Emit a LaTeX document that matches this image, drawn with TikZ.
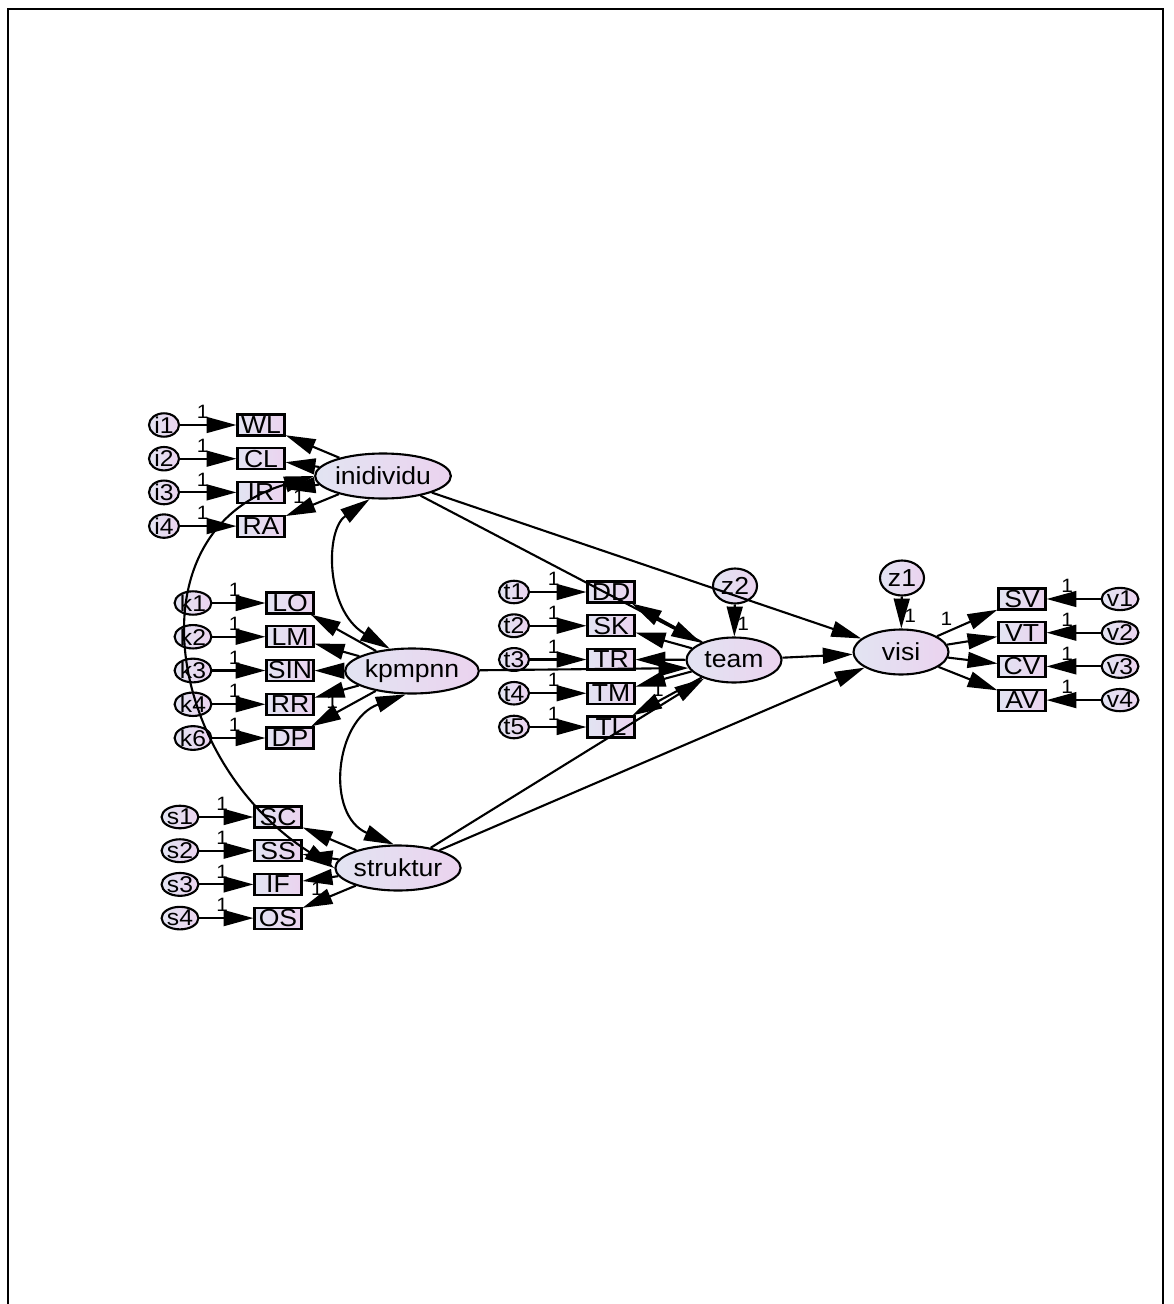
\documentclass[tikz,border=0pt]{standalone}
\usepackage{fontspec}
\setmainfont{Liberation Sans}[FakeStretch=1.08]
\usetikzlibrary{shapes.geometric, arrows.meta}
\definecolor{latL}{HTML}{E2E4F2}
\definecolor{latR}{HTML}{EBD3EF}

\begin{document}
\begin{tikzpicture}[
  x=0.02cm, y=-0.02cm,
  font=\fontsize{14}{16}\selectfont,
  lat/.style={ellipse, draw, line width=1.2pt, left color=latL, right color=latR,
              inner sep=0pt, minimum width=1.9cm, minimum height=0.9cm},
  ind/.style={rectangle, draw, line width=1.2pt, left color=latL, right color=latR,
              inner sep=0pt, minimum width=0.94cm, minimum height=0.42cm},
  err/.style={ellipse, draw, line width=1.2pt, left color=latL, right color=latR,
              inner sep=0pt, minimum width=0.6cm, minimum height=0.44cm, font=\fontsize{13}{14}\selectfont},
  dist/.style={err, minimum width=0.88cm, minimum height=0.7cm, font=\fontsize{14}{16}\selectfont},
  arr/.style={-{Triangle[length=17pt,width=9pt]}, line width=1.2pt},
  cov/.style={{Triangle[length=17pt,width=9pt]}-{Triangle[length=17pt,width=9pt]}, line width=1.2pt},
  one/.style={font=\fontsize{11}{12}\selectfont, inner sep=1pt},
]
\useasboundingbox (0,0) rectangle (1173,1304);

% ---- frame ----
\draw[line width=1.6pt] (8,1304) -- (8,9) -- (1163,9) -- (1163,1304);

% ---- latent variables ----
\node[lat] (individu) at (383,476) {inidividu};
\node[lat] (kpmpnn)   at (412,671) {kpmpnn};
\node[lat] (struktur) at (398,868) {struktur};
\node[lat] (team)     at (734,660) {team};
\node[lat] (visi)     at (901,652) {visi};
\node[dist] (z2) at (735,586) {z2};
\node[dist] (z1) at (902,578) {z1};

% ---- indicators with their errors ----
\foreach \lab/\e [count=\n from 0] in {WL/i1, CL/i2, IR/i3, RA/i4}{
  \node[ind] (\lab) at (261,{425+\n*33.7}) {\lab};
  \node[err] (\e) at (164,{425+\n*33.7}) {\e};
  \draw[arr] (\e) -- node[one, pos=0.4, above=2pt]{1} (\lab);
}
\foreach \lab/\e [count=\n from 0] in {LO/k1, LM/k2, SIN/k3, RR/k4, DP/k6}{
  \node[ind] (\lab) at (290,{603+\n*33.75}) {\lab};
  \node[err] (\e) at (193,{603+\n*33.75}) {\e};
  \draw[arr] (\e) -- node[one, pos=0.42, above=2pt]{1} (\lab);
}
\foreach \lab/\e [count=\n from 0] in {SC/s1, SS/s2, IF/s3, OS/s4}{
  \node[ind] (\lab) at (278,{817+\n*33.7}) {\lab};
  \node[err] (\e) at (180,{817+\n*33.7}) {\e};
  \draw[arr] (\e) -- node[one, pos=0.42, above=2pt]{1} (\lab);
}
\foreach \lab/\e [count=\n from 0] in {DD/t1, SK/t2, TR/t3, TM/t4, TL/t5}{
  \node[ind] (\lab) at (611,{592+\n*33.75}) {\lab};
  \node[err] (\e) at (514,{592+\n*33.75}) {\e};
  \draw[arr] (\e) -- node[one, pos=0.42, above=2pt]{1} (\lab);
}
\foreach \lab/\e [count=\n from 0] in {SV/v1, VT/v2, CV/v3, AV/v4}{
  \node[ind] (\lab) at (1022,{599+\n*33.7}) {\lab};
  \node[err] (\e) at (1120,{599+\n*33.7}) {\e};
  \draw[arr] (\e) -- node[one, pos=0.62, above=2pt]{1} (\lab);
}

% ---- loadings ----
\foreach \lab in {WL,CL,RA} \draw[arr] (individu) -- (\lab);
\draw[arr] (individu) -- node[one, pos=0.6, below]{1} (IR);
\foreach \lab in {LO,LM,SIN,DP} \draw[arr] (kpmpnn) -- (\lab);
\draw[arr] (kpmpnn) -- node[one, pos=0.6, below]{1} (RR);
\foreach \lab in {SC,SS,OS} \draw[arr] (struktur) -- (\lab);
\draw[arr] (struktur) -- node[one, pos=0.6, below]{1} (IF);
\foreach \lab in {DD,SK,TR,TL} \draw[arr] (team) -- (\lab);
\draw[arr] (team) -- node[one, pos=0.6, below]{1} (TM);
\foreach \lab in {VT,CV,AV} \draw[arr] (visi) -- (\lab);
\draw[arr] (visi) -- node[one, pos=0.3, above left]{1} (SV);

% ---- structural paths ----
\draw[arr] (individu) -- (team);
\draw[arr] (individu) -- (visi);
\draw[arr] (kpmpnn) -- (team.190);
\draw[arr] (struktur) -- (team);
\draw[arr] (struktur) -- (visi);
\draw[arr] (team) -- (visi);
\draw[arr] (z2) -- node[one, pos=0.6, right]{1} (team);
\draw[arr] (z1) -- node[one, pos=0.6, right]{1} (visi);

% ---- covariances ----
\draw[cov] (individu.240) .. controls (325,530) and (325,610) .. (kpmpnn.135);
\draw[cov] (kpmpnn.255) .. controls (335,720) and (325,815) .. (struktur.100);
\draw[cov] (individu.west) .. controls (130,530) and (165,760) .. (struktur.west);

\end{tikzpicture}
\end{document}
